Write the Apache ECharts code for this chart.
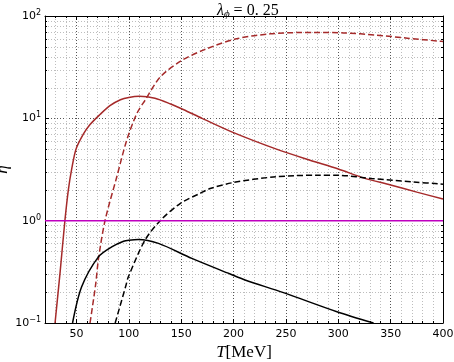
<!DOCTYPE html>
<html>
<head>
<meta charset="utf-8">
<script src="https://cdn.jsdelivr.net/npm/echarts@6/dist/echarts.min.js"></script>
<style>
  html, body { margin: 0; padding: 0; background: #fff; }
  #chart { width: 454px; height: 362px; }
</style>
</head>
<body>
<div id="chart"></div>
<script>
// eta(T) for lambda_phi = 0.25
const brownSolidT   = [29.6, 34.5, 39, 42.3, 45.5, 49.6, 56.6, 63, 72.5, 82, 92, 100, 110, 125, 140, 152, 170, 200, 241, 273, 300, 324, 350, 375, 400];
const brownSolidEta = [0.1, 0.32, 1.0, 2.0, 3.2, 5.0, 7.0, 8.7, 10.9, 13.3, 15.2, 16.0, 16.4, 15.7, 13.8, 12.2, 10.0, 7.25, 5.0, 3.9, 3.2, 2.62, 2.23, 1.9, 1.63];

const brownDashT   = [63, 68.4, 71, 77.3, 88.5, 98, 107.6, 115.5, 130, 150.6, 174.5, 203, 235, 264, 276, 305, 337, 366, 397, 400];
const brownDashEta = [0.1, 0.24, 0.42, 1.0, 2.67, 6.1, 11.1, 15.0, 25.3, 36.8, 47.9, 59.9, 67, 69, 69.1, 68.4, 65, 60.7, 56.7, 56.3];

const blackSolidT   = [46.3, 55, 71, 83.7, 95, 100, 109, 128.3, 160.2, 196.8, 211, 247.7, 298.7, 333.7];
const blackSolidEta = [0.1, 0.226, 0.443, 0.555, 0.63, 0.645, 0.656, 0.60, 0.428, 0.301, 0.263, 0.198, 0.129, 0.1];

const blackDashT   = [87, 97.4, 99.6, 115.5, 130, 149, 168, 177.7, 200, 238, 279.6, 301.8, 332, 371.9, 395.8, 400];
const blackDashEta = [0.1, 0.235, 0.283, 0.646, 1.0, 1.47, 1.85, 2.06, 2.36, 2.67, 2.78, 2.77, 2.58, 2.39, 2.29, 2.27];

const magentaT   = [20, 400];
const magentaEta = [1, 1];

const minorXTicks = [30, 40, 60, 70, 80, 90, 110, 120, 130, 140, 160, 170, 180, 190, 210, 220, 230, 240,
                     260, 270, 280, 290, 310, 320, 330, 340, 360, 370, 380, 390];
const minorYTicks = [0.2, 0.3, 0.4, 0.5, 0.6, 0.7, 0.8, 0.9, 2, 3, 4, 5, 6, 7, 8, 9, 20, 30, 40, 50, 60, 70, 80, 90];

const X_MIN = 20, X_MAX = 400, Y_MIN = 0.1, Y_MAX = 100;

const zip = (xs, ys) => xs.map((x, i) => [x, ys[i]]);
const px = (v) => Math.round(v) + 0.5;

// minor grid + small inward ticks, drawn through the axes' own scales
function minorXItem(params, api) {
  const v = api.value(0);
  const t = api.coord([v, Y_MAX]);
  const b = api.coord([v, Y_MIN]);
  const x = px(t[0]);
  return {
    type: 'group',
    children: [
      { type: 'line', shape: { x1: x, y1: t[1], x2: x, y2: b[1] }, style: { stroke: '#bdbdbd', lineWidth: 1, lineDash: [1, 2] } },
      { type: 'line', shape: { x1: x, y1: b[1], x2: x, y2: b[1] - 2 }, style: { stroke: '#000', lineWidth: 1 } },
      { type: 'line', shape: { x1: x, y1: t[1], x2: x, y2: t[1] + 2 }, style: { stroke: '#000', lineWidth: 1 } }
    ]
  };
}
function minorYItem(params, api) {
  const v = api.value(1);
  const l = api.coord([X_MIN, v]);
  const r = api.coord([X_MAX, v]);
  const y = px(l[1]);
  return {
    type: 'group',
    children: [
      { type: 'line', shape: { x1: l[0], y1: y, x2: r[0], y2: y }, style: { stroke: '#bdbdbd', lineWidth: 1, lineDash: [1, 2] } },
      { type: 'line', shape: { x1: l[0], y1: y, x2: l[0] + 2, y2: y }, style: { stroke: '#000', lineWidth: 1 } },
      { type: 'line', shape: { x1: r[0], y1: y, x2: r[0] - 2, y2: y }, style: { stroke: '#000', lineWidth: 1 } }
    ]
  };
}

const chart = echarts.init(document.getElementById('chart'), null, { renderer: 'canvas' });

const majorGrid = { show: true, lineStyle: { color: '#555', width: 1, type: [1, 2] } };
const tickIn = { show: true, inside: true, length: 4, lineStyle: { color: '#000' } };
const axisBlack = { show: true, onZero: false, lineStyle: { color: '#000', width: 1 } };
const tickFont = { color: '#000', fontSize: 11, fontFamily: 'DejaVu Sans' };

const lineSeries = (name, xs, ys, color, dashed) => ({
  name,
  type: 'line',
  data: zip(xs, ys),
  showSymbol: false,
  smooth: 0.3,
  lineStyle: { color, width: 1.5, type: dashed ? [6, 3] : 'solid' },
  z: 5
});

chart.setOption({
  animation: false,
  title: {
    text: '{i|λ}{sub|ϕ}{n| = 0. 25}',
    left: 212,
    top: -4,
    textStyle: {
      fontWeight: 'normal',
      rich: {
        i: { fontFamily: 'Liberation Serif', fontStyle: 'italic', fontWeight: 'normal', fontSize: 16, color: '#000' },
        sub: { fontFamily: 'Liberation Serif', fontStyle: 'italic', fontWeight: 'normal', fontSize: 11, color: '#000', padding: [8, 0, 0, 0] },
        n: { fontFamily: 'Liberation Serif', fontWeight: 'normal', fontSize: 16, color: '#000' }
      }
    }
  },
  grid: { left: 45, right: 11, top: 16, bottom: 39, containLabel: false, outerBoundsMode: 'none' },
  xAxis: [
    {
      type: 'value', min: X_MIN, max: X_MAX, splitNumber: 8, position: 'bottom',
      axisLine: axisBlack, axisTick: tickIn,
      axisLabel: Object.assign({ showMinLabel: false, margin: 6 }, tickFont),
      splitLine: majorGrid,
      name: '{i|T}{n|[MeV]}', nameLocation: 'middle', nameGap: 21, nameMoveOverlap: false,
      nameTextStyle: {
        rich: {
          i: { fontFamily: 'Liberation Serif', fontStyle: 'italic', fontSize: 17, color: '#000' },
          n: { fontFamily: 'Liberation Serif', fontSize: 17, color: '#000' }
        }
      }
    },
    {
      type: 'value', min: X_MIN, max: X_MAX, splitNumber: 8, position: 'top',
      axisLine: axisBlack, axisTick: tickIn, axisLabel: { show: false }, splitLine: { show: false }
    }
  ],
  yAxis: [
    {
      type: 'log', logBase: 10, min: Y_MIN, max: Y_MAX, position: 'left',
      axisLine: axisBlack, axisTick: tickIn, splitLine: majorGrid,
      axisLabel: Object.assign({
        margin: 4,
        formatter: (v) => {
          const e = Math.round(Math.log10(v));
          return '10{s|' + (e < 0 ? '−' : '') + Math.abs(e) + '}';
        },
        rich: { s: { fontSize: 8, fontFamily: 'DejaVu Sans', color: '#000', verticalAlign: 'top', padding: [0, 0, 6, 0] } }
      }, tickFont),
      name: 'η', nameLocation: 'middle', nameGap: 34, nameRotate: 90, nameMoveOverlap: false,
      nameTextStyle: { fontFamily: 'Liberation Serif', fontStyle: 'italic', fontSize: 17, color: '#000' }
    },
    {
      type: 'log', logBase: 10, min: Y_MIN, max: Y_MAX, position: 'right',
      axisLine: axisBlack, axisTick: tickIn, axisLabel: { show: false }, splitLine: { show: false }
    }
  ],
  series: [
    {
      type: 'custom', name: 'minorX', renderItem: minorXItem, silent: true, z: 1,
      data: minorXTicks.map((v) => [v, 1]), encode: { x: 0, y: 1 }
    },
    {
      type: 'custom', name: 'minorY', renderItem: minorYItem, silent: true, z: 1,
      data: minorYTicks.map((v) => [X_MIN, v]), encode: { x: 0, y: 1 }
    },
    lineSeries('brown solid', brownSolidT, brownSolidEta, '#a52a2a', false),
    lineSeries('brown dashed', brownDashT, brownDashEta, '#a52a2a', true),
    lineSeries('black solid', blackSolidT, blackSolidEta, '#000000', false),
    lineSeries('black dashed', blackDashT, blackDashEta, '#000000', true),
    lineSeries('eta = 1', magentaT, magentaEta, '#bf00bf', false)
  ]
});
</script>
</body>
</html>
